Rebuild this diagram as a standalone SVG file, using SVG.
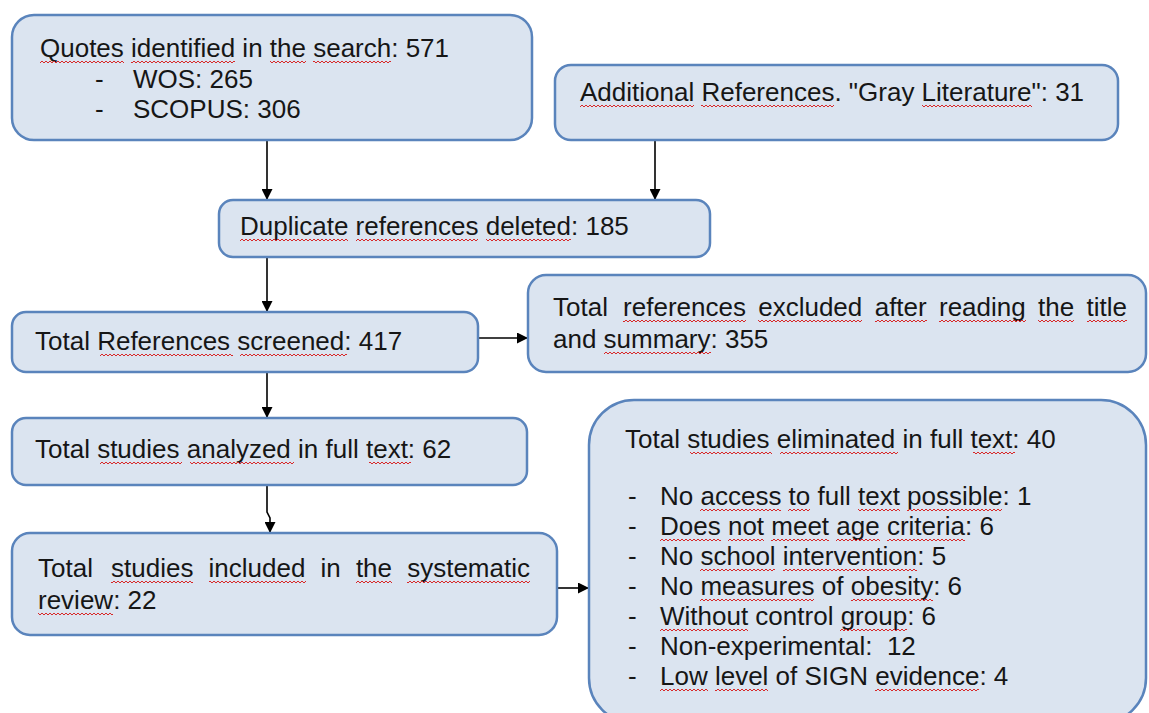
<svg xmlns="http://www.w3.org/2000/svg" width="1149" height="713" viewBox="0 0 1149 713">
<style>
.box{fill:#dbe4f0;stroke:#5a84bc;stroke-width:2.5}
.t{font-family:"Liberation Sans",Arial,Helvetica,sans-serif;font-size:26px;fill:#161616}
.conn path{fill:none;stroke:#000;stroke-width:1.6;marker-end:url(#ah)}
.sq rect{fill:url(#wave)}
</style>
<defs>
<marker id="ah" viewBox="0 0 10 10" refX="10" refY="5" markerWidth="11" markerHeight="11" markerUnits="userSpaceOnUse" orient="auto">
<path d="M0,0 L10,5 L0,10 z" fill="#000"/>
</marker>
<pattern id="wave" patternUnits="userSpaceOnUse" x="0" y="3" width="4" height="4">
<path d="M0,3 L2,1 L4,3" fill="none" stroke="#d82828" stroke-width="1"/>
</pattern>
</defs>
<rect width="1149" height="713" fill="#ffffff"/>

<g id="connectors" class="conn">
<path d="M267,140 L267,200"/>
<path d="M655,140 L655,200"/>
<path d="M267,257 L267,312"/>
<path d="M478,338 L528,338"/>
<path d="M267,372 L267,418"/>
<path d="M267,485 L267,512 L270,518 L270,533"/>
<path d="M557,588 L589,588"/>
</g>

<g id="n1">
<rect class="box" x="12" y="15" width="520" height="125" rx="22"/>
<text class="t" x="40" y="57">Quotes identified in the search: 571</text>
<text class="t" y="88"><tspan x="95">-</tspan><tspan x="133">WOS: 265</tspan></text>
<text class="t" y="118"><tspan x="95">-</tspan><tspan x="133">SCOPUS: 306</tspan></text>
<g class="sq" transform="translate(0,57)"><rect x="40" y="3" width="84" height="4"/><rect x="131" y="3" width="104" height="4"/><rect x="270" y="3" width="36" height="4"/><rect x="313" y="3" width="78" height="4"/></g>
</g>

<g id="n2">
<rect class="box" x="555" y="65" width="563" height="75" rx="16"/>
<text class="t" x="580" y="101">Additional References. "Gray Literature": 31</text>
<g class="sq" transform="translate(0,101)"><rect x="580" y="3" width="114" height="4"/><rect x="701" y="3" width="133" height="4"/><rect x="922" y="3" width="110" height="4"/></g>
</g>

<g id="n3">
<rect class="box" x="219" y="200" width="491" height="57" rx="14"/>
<text class="t" x="240" y="235">Duplicate references deleted: 185</text>
<g class="sq" transform="translate(0,235)"><rect x="240" y="3" width="108" height="4"/><rect x="356" y="3" width="122" height="4"/><rect x="486" y="3" width="85" height="4"/></g>
</g>

<g id="n4">
<rect class="box" x="12" y="312" width="466" height="60" rx="14"/>
<text class="t" x="35" y="350">Total References screened: 417</text>
<g class="sq" transform="translate(0,350)"><rect x="100" y="3" width="133" height="4"/><rect x="240" y="3" width="107" height="4"/></g>
</g>

<g id="n5">
<rect class="box" x="528" y="275" width="618" height="97" rx="18"/>
<text class="t" y="316"><tspan x="553">Total</tspan><tspan x="623.1">references</tspan><tspan x="758.2">excluded</tspan><tspan x="874.7">after</tspan><tspan x="939">reading</tspan><tspan x="1038">the</tspan><tspan x="1086.5">title</tspan></text>
<text class="t" x="553" y="348">and summary: 355</text>
<g class="sq" transform="translate(0,316)"><rect x="623" y="3" width="123" height="4"/><rect x="758" y="3" width="104" height="4"/><rect x="875" y="3" width="52" height="4"/><rect x="939" y="3" width="87" height="4"/><rect x="1038" y="3" width="36" height="4"/><rect x="1087" y="3" width="40" height="4"/></g>
<g class="sq" transform="translate(0,348)"><rect x="604" y="3" width="107" height="4"/></g>
</g>

<g id="n6">
<rect class="box" x="12" y="418" width="515" height="67" rx="14"/>
<text class="t" x="35" y="458">Total studies analyzed in full text: 62</text>
<g class="sq" transform="translate(0,458)"><rect x="100" y="3" width="82" height="4"/><rect x="190" y="3" width="104" height="4"/><rect x="369" y="3" width="42" height="4"/></g>
</g>

<g id="n7">
<rect class="box" x="12" y="533" width="545" height="102" rx="18"/>
<text class="t" y="577"><tspan x="38">Total</tspan><tspan x="111">studies</tspan><tspan x="208.6">included</tspan><tspan x="320.6">in</tspan><tspan x="355.9">the</tspan><tspan x="407.2">systematic</tspan></text>
<text class="t" x="38" y="609">review: 22</text>
<g class="sq" transform="translate(0,577)"><rect x="111" y="3" width="82" height="4"/><rect x="209" y="3" width="97" height="4"/><rect x="356" y="3" width="36" height="4"/><rect x="407" y="3" width="123" height="4"/></g>
<g class="sq" transform="translate(0,609)"><rect x="38" y="3" width="75" height="4"/></g>
</g>

<g id="n8">
<rect class="box" x="589" y="400" width="557" height="323" rx="45"/>
<text class="t" x="625" y="448">Total studies eliminated in full text: 40</text>
<text class="t" y="505"><tspan x="628">-</tspan><tspan x="660">No access to full text possible: 1</tspan></text>
<text class="t" y="535"><tspan x="628">-</tspan><tspan x="660">Does not meet age criteria: 6</tspan></text>
<text class="t" y="565"><tspan x="628">-</tspan><tspan x="660">No school intervention: 5</tspan></text>
<text class="t" y="595"><tspan x="628">-</tspan><tspan x="660">No measures of obesity: 6</tspan></text>
<text class="t" y="625"><tspan x="628">-</tspan><tspan x="660">Without control group: 6</tspan></text>
<text class="t" y="655" xml:space="preserve"><tspan x="628">-</tspan><tspan x="660">Non-experimental:  12</tspan></text>
<text class="t" y="685"><tspan x="628">-</tspan><tspan x="660">Low level of SIGN evidence: 4</tspan></text>
<g class="sq" transform="translate(0,448)"><rect x="690" y="3" width="82" height="4"/><rect x="780" y="3" width="118" height="4"/><rect x="973" y="3" width="42" height="4"/></g>
<g class="sq" transform="translate(0,505)"><rect x="700" y="3" width="81" height="4"/><rect x="788" y="3" width="22" height="4"/><rect x="858" y="3" width="42" height="4"/><rect x="907" y="3" width="95" height="4"/></g>
<g class="sq" transform="translate(0,535)"><rect x="660" y="3" width="61" height="4"/><rect x="728" y="3" width="36" height="4"/><rect x="771" y="3" width="58" height="4"/><rect x="836" y="3" width="44" height="4"/><rect x="887" y="3" width="78" height="4"/></g>
<g class="sq" transform="translate(0,565)"><rect x="700" y="3" width="75" height="4"/><rect x="783" y="3" width="134" height="4"/></g>
<g class="sq" transform="translate(0,595)"><rect x="700" y="3" width="114" height="4"/><rect x="851" y="3" width="82" height="4"/></g>
<g class="sq" transform="translate(0,625)"><rect x="660" y="3" width="88" height="4"/><rect x="840" y="3" width="67" height="4"/></g>
<g class="sq" transform="translate(0,685)"><rect x="660" y="3" width="48" height="4"/><rect x="715" y="3" width="53" height="4"/><rect x="875" y="3" width="104" height="4"/></g>
</g>
</svg>
